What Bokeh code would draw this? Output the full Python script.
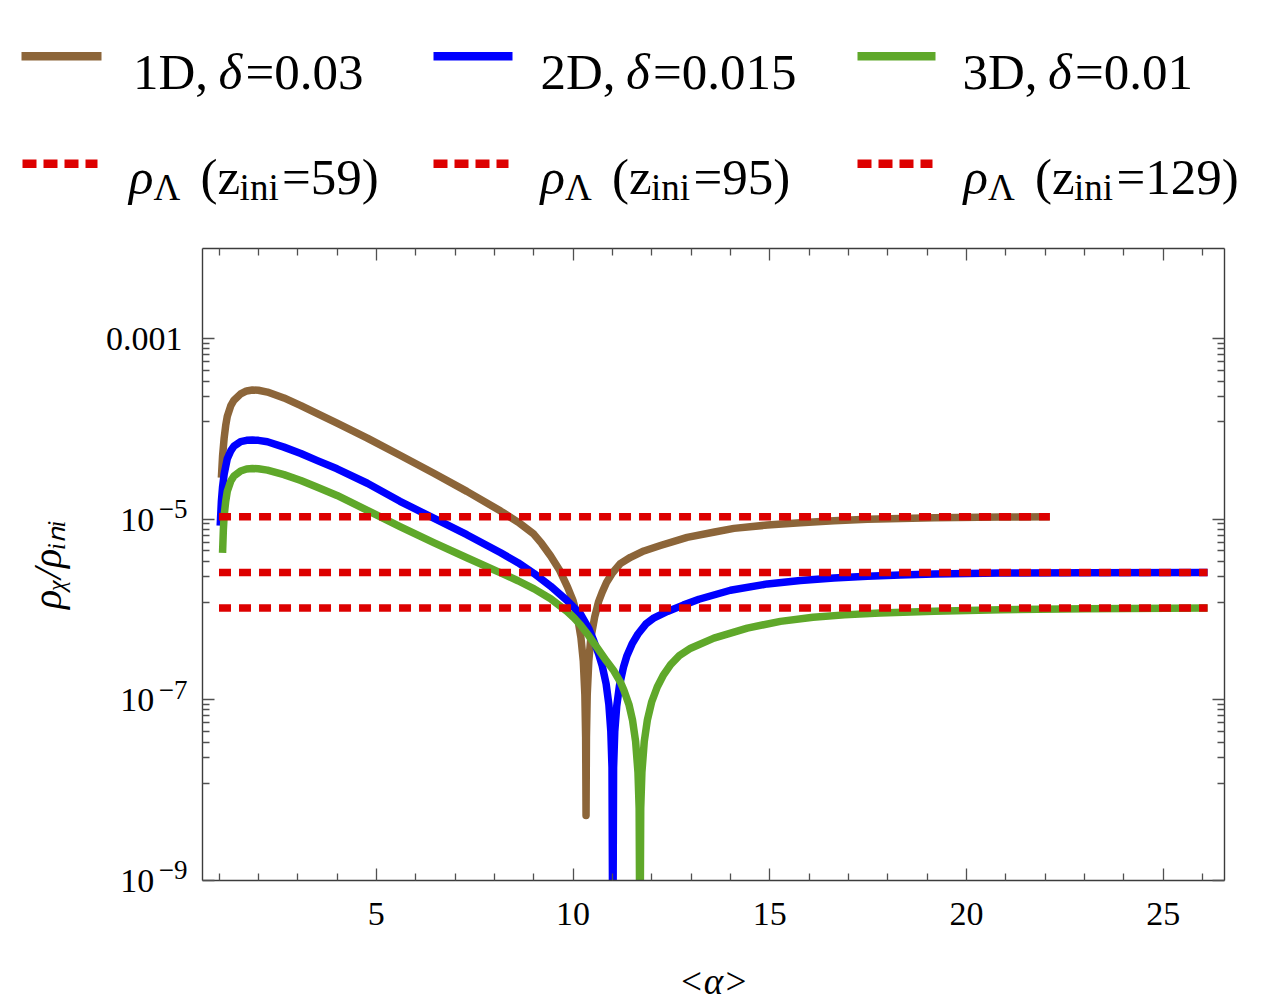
from bokeh.plotting import figure
from bokeh.models import Range1d, LogAxis, LinearAxis, FixedTicker, BasicTickFormatter
from bokeh.embed import file_html
from bokeh.resources import INLINE
from bokeh.core.properties import value

# ---------------- data (rho given as log10 values) ----------------
alpha_1d = [1.06, 1.09, 1.13, 1.17, 1.21, 1.30, 1.38, 1.55, 1.70, 1.85, 2.0, 2.23, 2.65, 3.08,
            3.5, 4.0, 4.77, 5.6, 6.46, 7.3, 8.16, 8.6, 9.0, 9.2, 9.43, 9.65, 9.86, 10.0, 10.12,
            10.20, 10.26, 10.30, 10.32, 10.33, 10.34, 10.36, 10.40, 10.45, 10.55, 10.65, 10.74,
            10.85, 11.0, 11.2, 11.46, 11.8, 12.22, 12.9, 13.6, 14.09, 14.94, 15.78, 16.63,
            17.48, 19.18, 20.87, 22.12]
log_rho_1d = [-4.54, -4.30, -4.10, -3.96, -3.86, -3.74, -3.68, -3.61, -3.578, -3.567, -3.57,
              -3.59, -3.655, -3.74, -3.83, -3.935, -4.10, -4.29, -4.49, -4.69, -4.908, -5.03,
              -5.163, -5.267, -5.406, -5.557, -5.75, -5.90, -6.10, -6.31, -6.57, -6.94, -7.42,
              -8.28, -7.42, -6.94, -6.57, -6.32, -6.08, -5.91, -5.807, -5.70, -5.594, -5.49,
              -5.42, -5.35, -5.29, -5.20, -5.14, -5.10, -5.063, -5.038, -5.015, -5.0, -4.982,
              -4.974, -4.971]

alpha_2d = [1.03, 1.06, 1.09, 1.13, 1.21, 1.30, 1.38, 1.55, 1.70, 1.85, 2.0, 2.23, 2.65, 3.08,
            3.5, 4.0, 4.77, 5.6, 6.47, 7.3, 8.16, 8.6, 9.01, 9.43, 9.85, 10.19, 10.40, 10.53,
            10.65, 10.74, 10.84, 10.91, 10.96, 10.99, 11.01, 11.03, 11.06, 11.11, 11.18, 11.28,
            11.37, 11.50, 11.65, 11.85, 12.06, 12.4, 12.8, 13.2, 14.0, 14.94, 15.78, 16.63,
            17.48, 18.32, 19.18, 20.87, 23.0, 26.13]
log_rho_2d = [-5.07, -4.80, -4.64, -4.50, -4.33, -4.24, -4.19, -4.14, -4.125, -4.122, -4.125,
              -4.14, -4.20, -4.27, -4.35, -4.44, -4.60, -4.80, -4.99, -5.17, -5.37, -5.48,
              -5.60, -5.74, -5.90, -6.05, -6.21, -6.35, -6.49, -6.62, -6.82, -7.05, -7.35,
              -7.75, -10.0, -7.75, -7.35, -7.07, -6.84, -6.64, -6.51, -6.38, -6.27, -6.16,
              -6.09, -6.02, -5.95, -5.885, -5.785, -5.715, -5.678, -5.649, -5.63, -5.617,
              -5.605, -5.594, -5.590, -5.589]

alpha_3d = [1.09, 1.11, 1.13, 1.17, 1.21, 1.30, 1.38, 1.55, 1.70, 1.85, 2.0, 2.23, 2.65, 3.08,
            3.5, 4.0, 4.77, 5.6, 6.47, 7.3, 8.16, 8.6, 9.01, 9.43, 9.85, 10.02, 10.19, 10.40,
            10.62, 10.85, 11.04, 11.2, 11.29, 11.42, 11.51, 11.59, 11.65, 11.68, 11.70, 11.72,
            11.75, 11.81, 11.89, 12.0, 12.14, 12.3, 12.48, 12.7, 12.99, 13.58, 14.43, 15.27,
            16.1, 16.9, 17.8, 19.18, 20.87, 23.0, 26.13]
log_rho_3d = [-5.37, -5.12, -4.96, -4.80, -4.69, -4.575, -4.52, -4.465, -4.443, -4.437, -4.44,
              -4.455, -4.505, -4.57, -4.645, -4.735, -4.90, -5.08, -5.26, -5.425, -5.593, -5.68,
              -5.77, -5.88, -6.02, -6.09, -6.17, -6.29, -6.427, -6.57, -6.68, -6.80, -6.89,
              -7.05, -7.22, -7.46, -7.80, -8.20, -10.0, -8.20, -7.80, -7.46, -7.22, -7.02,
              -6.857, -6.722, -6.608, -6.51, -6.427, -6.316, -6.204, -6.13, -6.085, -6.058,
              -6.038, -6.017, -6.0, -5.99, -5.983]

lambda_alpha_start = [1.0, 1.0, 1.0]
lambda_alpha_end = [22.12, 26.13, 26.13]
rho_lambda = [1.069e-5, 2.576e-6, 1.043e-6]

dims = ["1D", "2D", "3D"]
deltas = ["0.03", "0.015", "0.01"]
z_ini = ["59", "95", "129"]

x_major = [5, 10, 15, 20, 25]
x_minor = [1, 2, 3, 4, 6, 7, 8, 9, 11, 12, 13, 14, 16, 17, 18, 19, 21, 22, 23, 24, 26]
y_major = [1e-9, 1e-7, 1e-5, 1e-3]
PAD = "\u2007\u2008\u200a"   # keeps "10" clear of its raised exponent
y_mantissa = ["10" + PAD, "10" + PAD, "10" + PAD, "0.001"]
y_exp_pos = [1.3e-9, 1.3e-7, 1.3e-5]   # exponents sit a little above their tick
y_exponent = ["\u22129", "\u22127", "\u22125"]
y_minor = [1.2e-8, 2.3e-8, 3.4e-8, 4.5e-8, 5.6e-8, 6.7e-8, 7.8e-8, 8.9e-8,
           1.2e-6, 2.3e-6, 3.4e-6, 4.5e-6, 5.6e-6, 6.7e-6, 7.8e-6, 8.9e-6,
           1.2e-4, 2.3e-4, 3.4e-4, 4.5e-4, 5.6e-4, 6.7e-4, 7.8e-4, 8.9e-4]

rho_1d = [10 ** v for v in log_rho_1d]
rho_2d = [10 ** v for v in log_rho_2d]
rho_3d = [10 ** v for v in log_rho_3d]

# ---------------- style ----------------
SERIF = "Liberation Serif"
COLORS = ["#8C6539", "#0000FF", "#5FA82A"]
RED = "#DD0000"
LW = 7.5
AX = "#3c3c3c"
TK = "#505050"

# ================= legend (its own root, above the plot) =================
LEG_W, LEG_H = 1272, 222
leg = figure(width=LEG_W, height=LEG_H, x_range=Range1d(0, LEG_W), y_range=Range1d(LEG_H, 0),
             output_backend="svg", toolbar_location=None, min_border=0,
             x_axis_location=None, y_axis_location=None)
leg.grid.visible = False
leg.outline_line_color = None


def ltext(X, Y, s, size, italic=False):
    leg.text(x=[X], y=[Y], text=[s], text_font=value(SERIF),
             text_font_size=value(f"{size}px"),
             text_font_style="italic" if italic else "normal",
             text_baseline="alphabetic", text_align="left", text_color="black")


row1_lines = [(21, 101), (433, 512), (857, 935)]
row1_text = [132.5, 540, 962]
for i in range(3):
    x0, x1 = row1_lines[i]
    leg.line([x0, x1], [55.7, 55.7], line_color=COLORS[i], line_width=8.5)
    T = row1_text[i]
    ltext(T, 71, dims[i] + ",", 51)
    ltext(T + 85.5, 71, "\u03b4", 51, True)
    ltext(T + 112.5, 71, "=" + deltas[i], 51)

row2_lines = [(22, 97), (433, 508), (857, 932)]
row2_text = [128.6, 540, 963]
for i in range(3):
    x0, x1 = row2_lines[i]
    leg.line([x0, x1], [163.3, 163.3], line_color=RED, line_width=8.5, line_dash="14 7")
    R = row2_text[i]
    ltext(R, 176.7, "\u03c1", 51, True)
    ltext(R + 24.5, 186.7, "\u039b", 37)
    ltext(R + 71.5, 176.7, "(z", 51)
    ltext(R + 110.5, 186.7, "ini", 37)
    ltext(R + 153, 176.7, "=" + z_ini[i] + ")", 51)

# ================= main plot =================
p = figure(frame_width=1022, frame_height=632, y_axis_type="log", y_axis_location=None,
           x_range=Range1d(0.58, 26.56), y_range=Range1d(1e-9, 1e-2),
           output_backend="svg", toolbar_location=None,
           min_border_left=202, min_border_right=40, min_border_top=26,
           min_border_bottom=122)
p.grid.visible = False
p.outline_line_color = None
p.background_fill_color = "white"
p.border_fill_color = "white"

for xs, ys, c in [(alpha_1d, rho_1d, COLORS[0]), (alpha_2d, rho_2d, COLORS[1]),
                  (alpha_3d, rho_3d, COLORS[2])]:
    p.line(xs, ys, line_color=c, line_width=LW, line_join="round")

for a0, a1, r in zip(lambda_alpha_start, lambda_alpha_end, rho_lambda):
    p.line([a0, a1], [r, r], line_color=RED, line_width=LW, line_dash="12 8")

xt = FixedTicker(ticks=x_major, minor_ticks=x_minor)
yt = FixedTicker(ticks=y_major, minor_ticks=y_minor)


def tick_style(ax):
    ax.axis_line_color = AX
    ax.axis_line_width = 1.4
    ax.major_tick_line_color = TK
    ax.minor_tick_line_color = TK
    ax.major_tick_line_width = 1.3
    ax.minor_tick_line_width = 1.3
    ax.major_tick_in = 12
    ax.major_tick_out = 0
    ax.minor_tick_in = 7
    ax.minor_tick_out = 0


def hide_labels(ax):
    ax.formatter = BasicTickFormatter()
    ax.major_label_text_font_size = "1px"
    ax.major_label_text_color = None
    ax.major_label_standoff = 0


def no_ticks(ax):
    ax.axis_line_color = None
    ax.major_tick_line_color = None
    ax.minor_tick_line_color = None
    ax.major_tick_in = 0
    ax.major_tick_out = 0
    ax.minor_tick_in = 0
    ax.minor_tick_out = 0


# bottom axis (labels + x label)
bx = p.below[0]
bx.ticker = xt
tick_style(bx)
bx.major_label_text_font = SERIF
bx.major_label_text_font_size = "34px"
bx.major_label_text_color = "black"
bx.major_label_standoff = 22
bx.axis_label = "<\u03b1>"
bx.axis_label_text_font = SERIF
bx.axis_label_text_font_size = "37px"
bx.axis_label_text_font_style = "italic"
bx.axis_label_text_color = "black"
bx.axis_label_standoff = 33

# top axis: mirrored ticks only
ax_top = LinearAxis(ticker=xt)
tick_style(ax_top)
hide_labels(ax_top)
p.add_layout(ax_top, "above")

# right axis: mirrored ticks only
ax_right = LogAxis(ticker=yt)
tick_style(ax_right)
hide_labels(ax_right)
p.add_layout(ax_right, "right")

# left: tick marks
ax_l0 = LogAxis(ticker=yt)
tick_style(ax_l0)
hide_labels(ax_l0)
p.add_layout(ax_l0, "left")

# left: raised exponents of the 10^n labels
ax_l1 = LogAxis(ticker=FixedTicker(ticks=y_exp_pos, minor_ticks=[]))
no_ticks(ax_l1)
ax_l1.major_label_overrides = {v: s for v, s in zip(y_exp_pos, y_exponent)}
ax_l1.major_label_text_font = SERIF
ax_l1.major_label_text_font_size = "27px"
ax_l1.major_label_text_color = "black"
ax_l1.major_label_standoff = 15
p.add_layout(ax_l1, "left")

# left: mantissas "10" / "0.001" (pulled back to the exponents' right edge) and the y label
ax_l2 = LogAxis(ticker=FixedTicker(ticks=y_major, minor_ticks=[]))
no_ticks(ax_l2)
ax_l2.major_label_overrides = {v: s for v, s in zip(y_major, y_mantissa)}
ax_l2.major_label_text_font = SERIF
ax_l2.major_label_text_font_size = "34px"
ax_l2.major_label_text_color = "black"
ax_l2.major_label_standoff = -27
ax_l2.axis_label = "\u03c1\u1d6a/\u03c1\u1d62\u2099\u1d62"
ax_l2.axis_label_text_font = SERIF
ax_l2.axis_label_text_font_size = "40px"
ax_l2.axis_label_text_font_style = "italic"
ax_l2.axis_label_text_color = "black"
ax_l2.axis_label_standoff = 33
p.add_layout(ax_l2, "left")

open("out.html", "w").write(file_html([leg, p], INLINE))
